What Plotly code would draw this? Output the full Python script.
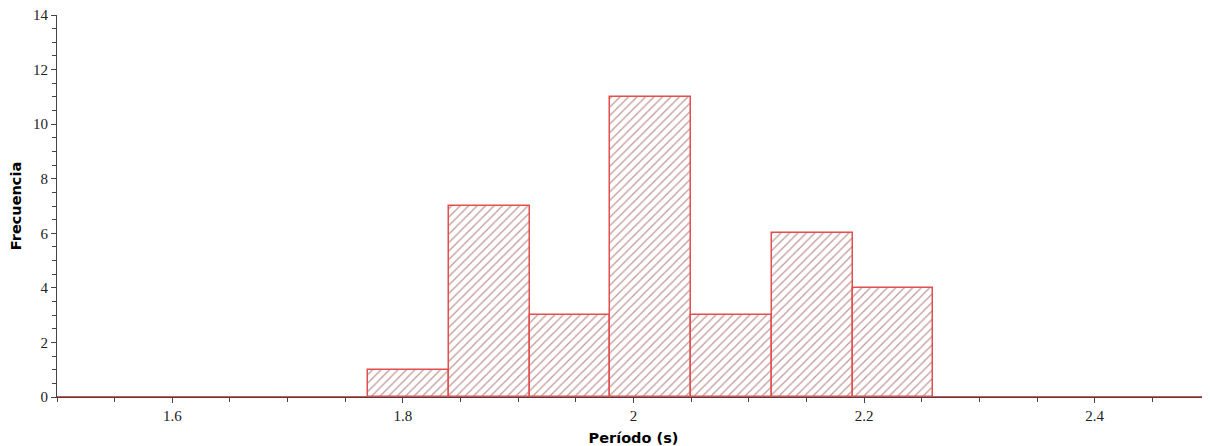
import plotly.graph_objects as go

# Histogram data: bin edges (s) and frequencies
bin_edges = [1.77, 1.84, 1.91, 1.98, 2.05, 2.12, 2.19, 2.26]
counts = [1, 7, 3, 11, 3, 6, 4]
x_range = [1.5, 2.5]
y_range = [0, 14]

centers = [(a + b) / 2 for a, b in zip(bin_edges[:-1], bin_edges[1:])]
widths = [b - a for a, b in zip(bin_edges[:-1], bin_edges[1:])]

RED = "#e34e4e"

fig = go.Figure()
fig.add_trace(go.Bar(
    x=centers, y=counts, width=widths,
    marker=dict(
        color="white",
        line=dict(color=RED, width=1.5),
        pattern=dict(shape="/", fgcolor="#8e3434", bgcolor="white", size=6, solidity=0.22),
    ),
    showlegend=False, hoverinfo="x+y",
))
# zero-frequency bins drawn as a red baseline across the full range
fig.add_trace(go.Scatter(
    x=x_range, y=[0, 0], mode="lines",
    line=dict(color=RED, width=2), showlegend=False, hoverinfo="skip",
    cliponaxis=False,
))

tickfont = dict(family="Liberation Serif, Times New Roman, serif", size=15, color="#222")
titlefont = dict(family="DejaVu Sans, sans-serif", size=14.5, color="#000", weight="bold")

# page body has an 8px margin, so the figure is offset accordingly
fig.update_layout(
    width=1202, height=438,
    margin=dict(l=49, r=0, t=7, b=49),
    paper_bgcolor="white", plot_bgcolor="white",
    bargap=0,
    xaxis=dict(
        range=x_range, tickvals=[1.6, 1.8, 2.0, 2.2, 2.4], ticktext=["1.6", "1.8", "2", "2.2", "2.4"],
        showgrid=False, zeroline=False, showline=True, linecolor="#444", linewidth=1,
        ticks="outside", ticklen=5, tickcolor="#444", tickfont=tickfont,
        minor=dict(dtick=0.05, tick0=1.5, ticks="outside", ticklen=4, tickcolor="#444", showgrid=False),
        title=dict(text="Período (s)", font=titlefont, standoff=10),
        layer="below traces", automargin=False, ticklabeloverflow="allow",
    ),
    yaxis=dict(
        range=y_range, dtick=2, showgrid=False, zeroline=False, showline=True,
        linecolor="#444", linewidth=1, ticks="outside", ticklen=5, tickcolor="#444",
        tickfont=tickfont,
        minor=dict(dtick=0.5, ticks="outside", ticklen=4, tickcolor="#444", showgrid=False),
        title=dict(text="Frecuencia", font=titlefont, standoff=7),
        layer="below traces", automargin=False, ticklabeloverflow="allow",
    ),
)

fig.write_html("out.html")
